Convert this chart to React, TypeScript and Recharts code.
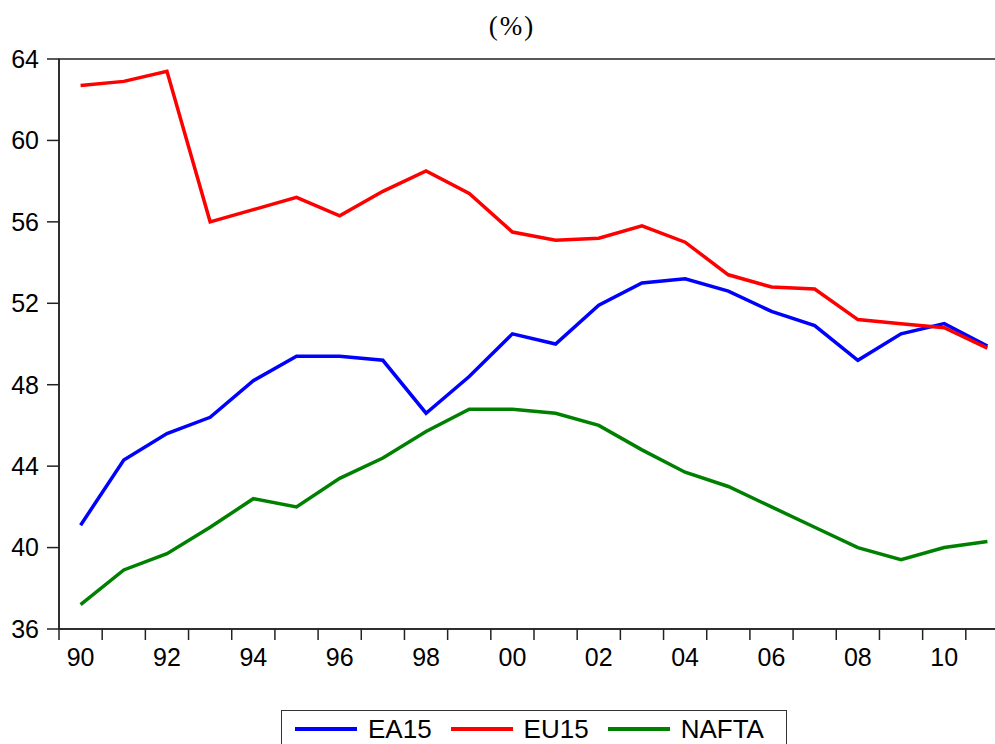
import React from "react";
import {
  LineChart,
  Line,
  XAxis,
  YAxis,
  Legend,
  ReferenceArea,
} from "recharts";

// years on the x axis (shown as two-digit labels)
const years = [
  1990, 1991, 1992, 1993, 1994, 1995, 1996, 1997, 1998, 1999, 2000,
  2001, 2002, 2003, 2004, 2005, 2006, 2007, 2008, 2009, 2010, 2011,
];

const ea15 = [
  41.1, 44.3, 45.6, 46.4, 48.2, 49.4, 49.4, 49.2, 46.6, 48.4, 50.5,
  50.0, 51.9, 53.0, 53.2, 52.6, 51.6, 50.9, 49.2, 50.5, 51.0, 49.9,
];

const eu15 = [
  62.7, 62.9, 63.4, 56.0, 56.6, 57.2, 56.3, 57.5, 58.5, 57.4, 55.5,
  55.1, 55.2, 55.8, 55.0, 53.4, 52.8, 52.7, 51.2, 51.0, 50.8, 49.8,
];

const nafta = [
  37.2, 38.9, 39.7, 41.0, 42.4, 42.0, 43.4, 44.4, 45.7, 46.8, 46.8,
  46.6, 46.0, 44.8, 43.7, 43.0, 42.0, 41.0, 40.0, 39.4, 40.0, 40.3,
];

const yTicks = [36, 40, 44, 48, 52, 56, 60, 64];

const data = years.map((year, i) => ({
  year,
  EA15: ea15[i],
  EU15: eu15[i],
  NAFTA: nafta[i],
}));

// ticks sit on the borders between years, labels in the middle
const boundaryTicks = [...years.map((y) => y - 0.5), years[years.length - 1] + 0.5];

const CHART_W = 1030;
const CHART_H = 744;
const Y_AXIS_W = 59;
const MARGIN = { top: 59, right: 21, left: 0, bottom: 0 };
const BAND = (CHART_W - MARGIN.left - MARGIN.right - Y_AXIS_W) / years.length;

const SANS = '"Liberation Sans", Arial, sans-serif';

const series = [
  { key: "EA15", color: "#0000ff" },
  { key: "EU15", color: "#ff0000" },
  { key: "NAFTA", color: "#008000" },
];

function YearTick(props: any) {
  const { x, y, payload } = props;
  const year = payload.value + 0.5;
  if (year % 2 !== 0 || year > years[years.length - 1]) return <g />;
  const label = String(year % 100).padStart(2, "0");
  return (
    <text
      x={x + BAND / 2}
      y={y}
      dy="0.71em"
      textAnchor="middle"
      fontSize={25}
      fontFamily={SANS}
      fill="#000"
    >
      {label}
    </text>
  );
}

function BoxLegend() {
  return (
    <div
      style={{
        display: "flex",
        alignItems: "center",
        boxSizing: "border-box",
        width: 506,
        height: 37,
        border: "1.5px solid #333",
        paddingLeft: 13,
        fontFamily: SANS,
        fontSize: 26,
        lineHeight: "30px",
        color: "#000",
        background: "#fff",
      }}
    >
      {series.map((s, i) => (
        <div
          key={s.key}
          style={{ display: "flex", alignItems: "center", marginLeft: i === 0 ? 0 : 19 }}
        >
          <div style={{ width: 62, height: 4, background: s.color }} />
          <span style={{ marginLeft: 11 }}>{s.key}</span>
        </div>
      ))}
    </div>
  );
}

export default function App() {
  return (
    <div
      style={{
        position: "absolute",
        left: 0,
        top: 0,
        width: 995,
        height: 744,
        overflow: "hidden",
        background: "#fff",
      }}
    >
      <div
        style={{
          position: "absolute",
          left: 0,
          width: 1024,
          top: 11,
          textAlign: "center",
          fontFamily: '"Liberation Serif", "Times New Roman", serif',
          fontSize: 27,
          letterSpacing: 2,
          zIndex: 2,
        }}
      >
        (%)
      </div>
      <LineChart width={CHART_W} height={CHART_H} data={data} margin={MARGIN}>
        <XAxis
          dataKey="year"
          type="number"
          domain={[1989.5, 2011.5]}
          ticks={boundaryTicks}
          interval={0}
          height={115}
          tickSize={11}
          tickMargin={8}
          axisLine={{ stroke: "#222", strokeWidth: 1.5 }}
          tickLine={{ stroke: "#222", strokeWidth: 1.5 }}
          tick={<YearTick />}
        />
        <YAxis
          domain={[36, 64]}
          ticks={yTicks}
          interval={0}
          width={Y_AXIS_W}
          tickSize={12}
          tickMargin={8}
          axisLine={{ stroke: "#222", strokeWidth: 1.5 }}
          tickLine={{ stroke: "#222", strokeWidth: 1.5 }}
          tick={{ fontSize: 25, fontFamily: SANS, fill: "#000" }}
        />
        <ReferenceArea
          x1={1989.5}
          x2={2011.5}
          y1={36}
          y2={64}
          fill="none"
          stroke="#222"
          strokeWidth={1.5}
          ifOverflow="visible"
        />
        {series.map((s) => (
          <Line
            key={s.key}
            type="linear"
            dataKey={s.key}
            stroke={s.color}
            strokeWidth={3.5}
            dot={false}
            isAnimationActive={false}
          />
        ))}
        <Legend
          content={<BoxLegend />}
          wrapperStyle={{ left: 281, top: 710, width: 506, height: 0, overflow: "visible" }}
        />
      </LineChart>
    </div>
  );
}
